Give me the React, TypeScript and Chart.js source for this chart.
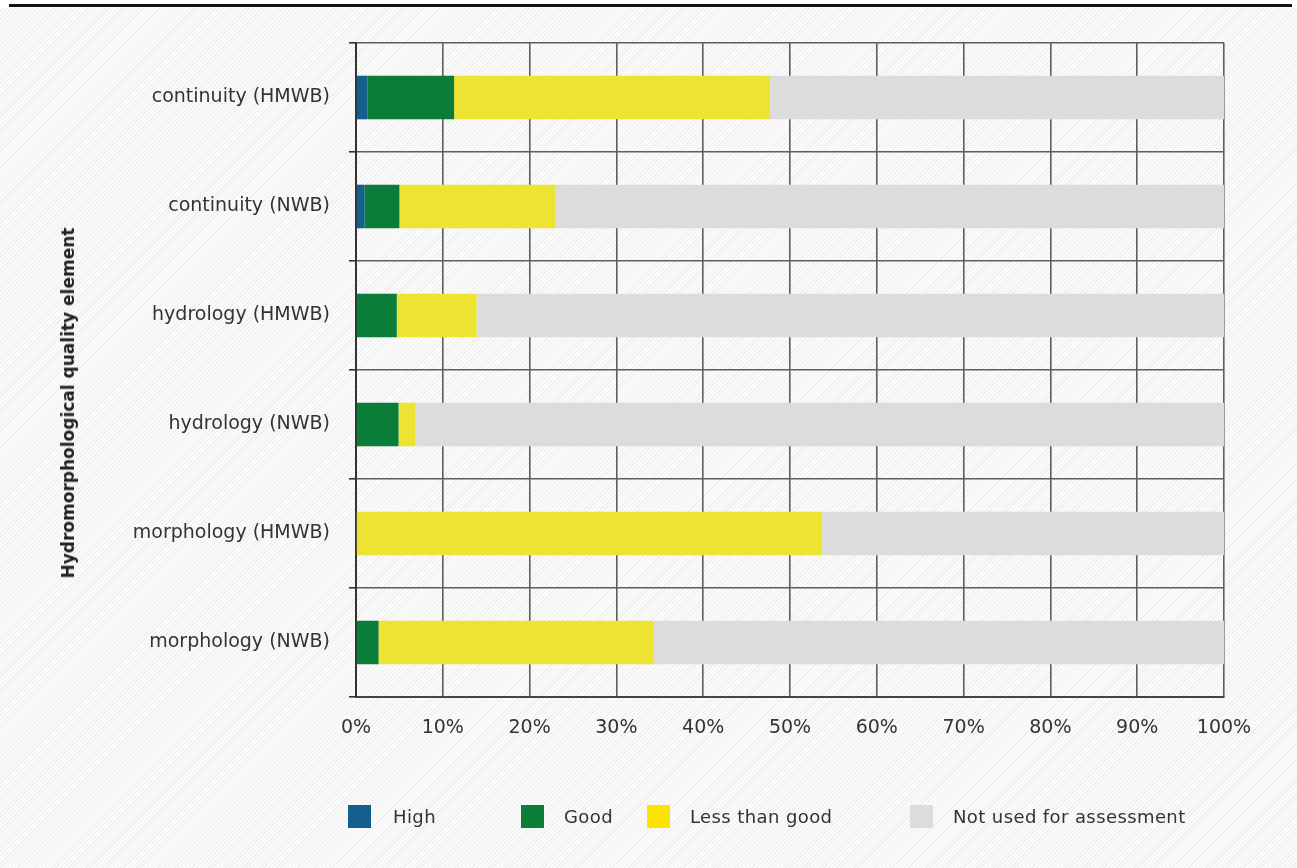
import React, { useEffect, useRef } from "react";
import { Chart, registerables } from "chart.js";

Chart.register(...registerables);

const categories = [
  "continuity (HMWB)",
  "continuity (NWB)",
  "hydrology (HMWB)",
  "hydrology (NWB)",
  "morphology (HMWB)",
  "morphology (NWB)",
];
const highValues = [1.3, 1.0, 0, 0, 0, 0];
const goodValues = [10.0, 4.0, 4.7, 4.9, 0, 2.6];
const lessThanGoodValues = [36.4, 18.0, 9.2, 1.9, 53.7, 31.7];
const notUsedValues = [52.3, 77.0, 86.1, 93.2, 46.3, 65.7];
const seriesLabels = ["High", "Good", "Less than good", "Not used for assessment"];
const seriesColors = ["#145f8c", "#0a7d38", "#ece332", "#dcdcdc"];
const legendColors = ["#145f8c", "#0a7d38", "#fde300", "#dcdcdc"];
const axisTitle = "Hydromorphological quality element";

const FONT = "'DejaVu Sans', sans-serif";

export default function App() {
  const canvasRef = useRef<HTMLCanvasElement | null>(null);

  useEffect(() => {
    if (!canvasRef.current) return;
    const seriesValues = [highValues, goodValues, lessThanGoodValues, notUsedValues];
    const chart = new Chart(canvasRef.current, {
      type: "bar",
      data: {
        labels: categories,
        datasets: seriesLabels.map((label, i) => ({
          label,
          data: seriesValues[i],
          backgroundColor: seriesColors[i],
          borderWidth: 0,
          barPercentage: 0.4,
          categoryPercentage: 1,
        })),
      },
      options: {
        indexAxis: "y",
        animation: false,
        responsive: true,
        maintainAspectRatio: false,
        layout: { padding: { left: 0, right: 73, top: 43, bottom: 0 } },
        plugins: { legend: { display: false }, tooltip: { enabled: false } },
        scales: {
          x: {
            stacked: true,
            min: 0,
            max: 100,
            ticks: {
              stepSize: 10,
              callback: (v: any) => `${v}%`,
              color: "#333",
              font: { family: FONT, size: 19 },
              padding: 20,
              maxRotation: 0,
            },
            grid: { color: "#5e5e5e", lineWidth: 1.6, drawTicks: false },
            border: { display: true, color: "#444", width: 2 },
            afterFit: (scale: any) => {
              scale.height = 171;
            },
          },
          y: {
            stacked: true,
            ticks: {
              color: "#333",
              font: { family: FONT, size: 19 },
              padding: 19,
            },
            grid: { color: "#5e5e5e", lineWidth: 1.6, offset: true, drawTicks: true, tickLength: 7, tickColor: "#333" },
            border: { display: true, color: "#333", width: 2 },
            afterFit: (scale: any) => {
              scale.width = 356;
            },
          },
        },
      },
    });
    return () => chart.destroy();
  }, []);

  const legendItems = [
    { box: 348, text: 393 },
    { box: 521, text: 564 },
    { box: 647, text: 690 },
    { box: 910, text: 953 },
  ];

  return (
    <div
      style={{
        position: "fixed",
        left: 0,
        top: 0,
        width: 1297,
        height: 868,
        background: "#ffffff",
        overflow: "hidden",
      }}
    >
      <div
        style={{
          position: "absolute",
          left: 0,
          top: 8,
          width: 1297,
          height: 860,
          background:
            "repeating-linear-gradient(135deg, #fbfbfb 0px, #fbfbfb 2px, #eeeeee 2px, #eeeeee 3px)",
        }}
      />
      <div
        style={{
          position: "absolute",
          left: 9,
          top: 4,
          width: 1283,
          height: 3,
          background: "#111",
        }}
      />
      <div style={{ position: "absolute", left: 0, top: 0, width: 1297, height: 868 }}>
        <canvas ref={canvasRef} />
      </div>
      <div
        style={{
          position: "absolute",
          left: 68,
          top: 403,
          transform: "translate(-50%, -50%) rotate(-90deg)",
          whiteSpace: "nowrap",
          fontFamily: FONT,
          fontWeight: "bold",
          fontSize: 17,
          color: "#222",
        }}
      >
        {axisTitle}
      </div>
      {seriesLabels.map((label, i) => (
        <React.Fragment key={label}>
          <div
            style={{
              position: "absolute",
              left: legendItems[i].box,
              top: 805,
              width: 23,
              height: 23,
              background: legendColors[i],
            }}
          />
          <div
            style={{
              position: "absolute",
              left: legendItems[i].text,
              top: 816,
              transform: "translateY(-50%)",
              whiteSpace: "nowrap",
              fontFamily: FONT,
              fontSize: 18,
              letterSpacing: "0.4px",
              color: "#333",
            }}
          >
            {label}
          </div>
        </React.Fragment>
      ))}
    </div>
  );
}
